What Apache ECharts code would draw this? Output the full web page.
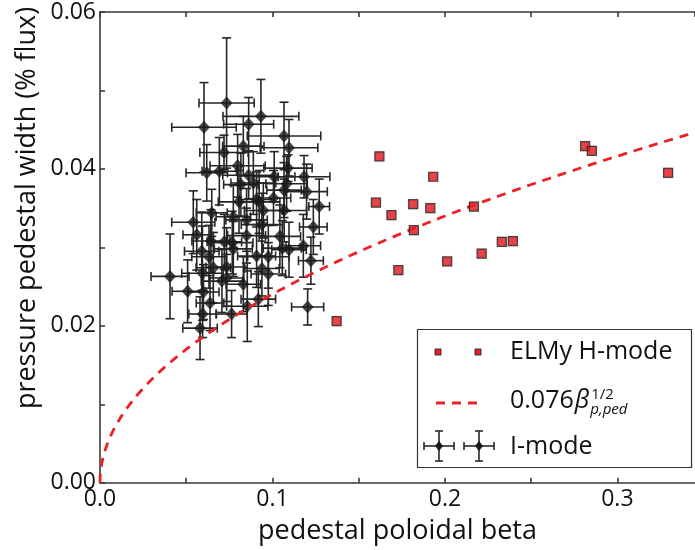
<!DOCTYPE html>
<html><head><meta charset="utf-8">
<script src="https://cdn.jsdelivr.net/npm/echarts@6/dist/echarts.min.js"></script>
<style>html,body{margin:0;padding:0;background:#fff}#c{width:695px;height:550px}</style>
</head><body><div id="c"></div>
<script>
// ---------------- data ----------------
// I-mode: pedestal poloidal beta, pressure pedestal width, and their errors
const imodeBeta = [0.0406,0.0508,0.0541,0.0561,0.0580,0.0590,0.0594,0.0600,0.0595,0.0603,0.0619,0.0632,0.0638,0.0643,0.0648,0.0657,0.0692,0.0707,0.0719,0.0721,0.0734,0.0734,0.0734,0.0767,0.0763,0.0773,0.0773,0.0798,0.0806,0.0817,0.0831,0.0831,0.0850,0.0850,0.0854,0.0862,0.0862,0.0889,0.0908,0.0908,0.0918,0.0923,0.0933,0.0939,0.0939,0.0947,0.0976,0.0976,0.1010,0.1006,0.1043,0.1057,0.1067,0.1067,0.1068,0.1082,0.1090,0.1096,0.1096,0.1179,0.1183,0.1198,0.1204,0.1223,0.1237,0.1271];
const imodeWidth = [0.0263,0.0244,0.0332,0.0316,0.0197,0.0295,0.0267,0.0243,0.0215,0.0453,0.0395,0.0288,0.0229,0.0308,0.0344,0.0274,0.0397,0.0257,0.0421,0.0307,0.0484,0.0275,0.0261,0.0306,0.0215,0.0339,0.0298,0.0404,0.0358,0.0380,0.0429,0.0253,0.0335,0.0315,0.0225,0.0457,0.0392,0.0382,0.0361,0.0289,0.0234,0.0358,0.0467,0.0329,0.0273,0.0347,0.0288,0.0266,0.0390,0.0363,0.0314,0.0299,0.0442,0.0373,0.0347,0.0381,0.0401,0.0427,0.0297,0.0302,0.0390,0.0371,0.0224,0.0283,0.0326,0.0352];
const imodeBetaErr = [0.011,0.009,0.0125,0.008,0.010,0.010,0.012,0.009,0.008,0.0187,0.012,0.010,0.008,0.011,0.009,0.010,0.010,0.012,0.014,0.010,0.016,0.012,0.010,0.012,0.009,0.010,0.011,0.016,0.012,0.010,0.012,0.010,0.012,0.011,0.012,0.0145,0.015,0.013,0.010,0.011,0.010,0.012,0.022,0.012,0.010,0.011,0.012,0.010,0.012,0.010,0.012,0.011,0.0213,0.010,0.013,0.012,0.014,0.0167,0.010,0.010,0.015,0.012,0.0093,0.0072,0.008,0.006];
const imodeWidthErr = [0.0054,0.0040,0.0040,0.0045,0.0040,0.0050,0.0060,0.0035,0.0030,0.0057,0.0036,0.0040,0.0035,0.0040,0.0030,0.0045,0.0043,0.0040,0.0022,0.0035,0.0083,0.0050,0.0030,0.0040,0.0030,0.0040,0.0035,0.0040,0.0040,0.0040,0.0038,0.0035,0.0040,0.0035,0.0045,0.0034,0.0030,0.0040,0.0035,0.0040,0.0035,0.0040,0.0047,0.0040,0.0035,0.0035,0.0040,0.0040,0.0032,0.0035,0.0040,0.0035,0.0043,0.0035,0.0040,0.0035,0.0017,0.0036,0.0035,0.0040,0.0027,0.0035,0.0023,0.0030,0.0035,0.0035];

// ELMy H-mode
const hmodeBeta  = [0.1372,0.160,0.162,0.169,0.173,0.1816,0.182,0.1915,0.1932,0.2013,0.2168,0.2213,0.2330,0.2394,0.2813,0.2852,0.3294];
const hmodeWidth = [0.0206,0.0357,0.0416,0.0341,0.0271,0.0355,0.0322,0.0350,0.0390,0.0282,0.0352,0.0292,0.0307,0.0308,0.0429,0.0423,0.0395];

// Fit curve  width = 0.076 * beta^(1/2)
const fitCoef = 0.076;
const fitBetaMax = 0.345;

const xTickLabels = ['0.0','0.1','0.2','0.3'];
const yTickLabels = ['0.00','0.02','0.04','0.06'];

// ---------------- build ----------------
const FONT = '"Open Sans", "DejaVu Sans", sans-serif';
const RED = '#ee1f25';
const DARK = '#222';

const imodeData = imodeBeta.map((b,i)=>[b, imodeWidth[i], imodeBetaErr[i], imodeWidthErr[i]]);
const hmodeData = hmodeBeta.map((b,i)=>[b, hmodeWidth[i]]);
const fitData = [];
const N = 160;
for (let i=0;i<=N;i++){ const b = fitBetaMax*(i/N)*(i/N); fitData.push([b, fitCoef*Math.sqrt(b)]); }

function renderErr(params, api){
  const x=api.value(0), y=api.value(1), xe=api.value(2), ye=api.value(3);
  const c=api.coord([x,y]);
  const l=api.coord([x-xe,y]), r=api.coord([x+xe,y]);
  const t=api.coord([x,y+ye]), b=api.coord([x,y-ye]);
  const cap=4.5;
  const st={stroke:'#262626', lineWidth:1.6, fill:null};
  return {type:'group', children:[
    {type:'line', shape:{x1:l[0],y1:c[1],x2:r[0],y2:c[1]}, style:st},
    {type:'line', shape:{x1:c[0],y1:t[1],x2:c[0],y2:b[1]}, style:st},
    {type:'line', shape:{x1:l[0],y1:c[1]-cap,x2:l[0],y2:c[1]+cap}, style:st},
    {type:'line', shape:{x1:r[0],y1:c[1]-cap,x2:r[0],y2:c[1]+cap}, style:st},
    {type:'line', shape:{x1:c[0]-cap,y1:t[1],x2:c[0]+cap,y2:t[1]}, style:st},
    {type:'line', shape:{x1:c[0]-cap,y1:b[1],x2:c[0]+cap,y2:b[1]}, style:st}
  ]};
}

function fmtX(v){ const k=Math.round(v*10); return Math.abs(v*10-k)<1e-6 ? xTickLabels[k] || '' : ''; }
function fmtY(v){ const k=Math.round(v*100); return (Math.abs(v*100-k)<1e-6 && k%2===0) ? yTickLabels[k/2] || '' : ''; }

const axisLineStyle = {color:'#3a3a3a', width:1.6};

// measure text for legend math
const cv = document.createElement('canvas').getContext('2d');
function tw(txt, font){ cv.font = font; return cv.measureText(txt).width; }
const LF = 25;
const w0 = tw('0.076', LF+'px "Open Sans"');
const wb = tw('β', 'italic '+LF+'px "Open Sans"');
const lx = 510;

const legendGraphics = [
  {type:'rect', z:100, shape:{x:417.5,y:329.5,width:274,height:138}, style:{fill:'#fff', stroke:'#333', lineWidth:1.2}},
  {type:'rect', z:101, shape:{x:435,y:349,width:6,height:6}, style:{fill:RED, stroke:'#333', lineWidth:1}},
  {type:'rect', z:101, shape:{x:475,y:349,width:6,height:6}, style:{fill:RED, stroke:'#333', lineWidth:1}},
  {type:'text', z:101, x:lx, y:352, style:{text:'ELMy H-mode', font:LF+'px '+FONT, fill:'#111', verticalAlign:'middle'}},
  {type:'line', z:101, shape:{x1:436,y1:403,x2:482,y2:403}, style:{stroke:RED, lineWidth:2.8, lineDash:[9,7]}},
  {type:'text', z:101, x:lx, y:401, style:{text:'0.076', font:LF+'px '+FONT, fill:'#111', verticalAlign:'middle'}},
  {type:'text', z:101, x:lx+w0+1, y:401, style:{text:'β', font:'italic '+LF+'px '+FONT, fill:'#111', verticalAlign:'middle'}},
  {type:'text', z:101, x:lx+w0+wb+3, y:395, style:{text:'1/2', font:'15px '+FONT, fill:'#111', verticalAlign:'middle'}},
  {type:'text', z:101, x:lx+w0+wb+2, y:410, style:{text:'p,ped', font:'italic 15px '+FONT, fill:'#111', verticalAlign:'middle'}},
  {type:'text', z:101, x:lx, y:447, style:{text:'I-mode', font:LF+'px '+FONT, fill:'#111', verticalAlign:'middle'}},
  {type:'text', z:50, x:27, y:208, rotation:Math.PI/2, style:{text:'pressure pedestal width (% flux)', font:'27px '+FONT, fill:'#111', align:'center', verticalAlign:'middle'}}
];
[439,479].forEach(cx=>{
  const cy=446, st={stroke:'#262626', lineWidth:1.6};
  legendGraphics.push(
    {type:'line', z:101, shape:{x1:cx-15,y1:cy,x2:cx+15,y2:cy}, style:st},
    {type:'line', z:101, shape:{x1:cx,y1:cy-15,x2:cx,y2:cy+15}, style:st},
    {type:'line', z:101, shape:{x1:cx-15,y1:cy-4,x2:cx-15,y2:cy+4}, style:st},
    {type:'line', z:101, shape:{x1:cx+15,y1:cy-4,x2:cx+15,y2:cy+4}, style:st},
    {type:'line', z:101, shape:{x1:cx-4,y1:cy-15,x2:cx+4,y2:cy-15}, style:st},
    {type:'line', z:101, shape:{x1:cx-4,y1:cy+15,x2:cx+4,y2:cy+15}, style:st},
    {type:'polygon', z:102, shape:{points:[[cx,cy-5],[cx+4,cy],[cx,cy+5],[cx-4,cy]]}, style:{fill:'#1a1a1a'}}
  );
});

const chart = echarts.init(document.getElementById('c'), null, {renderer:'canvas'});
chart.setOption({
  animation:false,
  backgroundColor:'#fff',
  textStyle:{fontFamily:FONT},
  grid:{left:100, top:12, right:0, bottom:67.3, containLabel:false},
  xAxis:[{
    type:'value', min:0, max:fitBetaMax, interval:0.05, position:'bottom',
    axisLine:{show:true, onZero:false, lineStyle:axisLineStyle},
    axisTick:{show:true, inside:true, length:5, lineStyle:axisLineStyle},
    axisLabel:{formatter:fmtX, fontSize:23, color:'#111', margin:5, fontFamily:FONT, showMaxLabel:false},
    splitLine:{show:false},
    name:'pedestal poloidal beta', nameLocation:'middle', nameGap:35,
    nameTextStyle:{fontSize:27, color:'#111', fontFamily:FONT}
  },{
    type:'value', min:0, max:fitBetaMax, interval:0.05, position:'top',
    axisLine:{show:true, onZero:false, lineStyle:axisLineStyle},
    axisTick:{show:true, inside:true, length:5, lineStyle:axisLineStyle},
    axisLabel:{show:false}, splitLine:{show:false}
  }],
  yAxis:{
    type:'value', min:0, max:0.06, interval:0.01,
    axisLine:{show:true, onZero:false, lineStyle:axisLineStyle},
    axisTick:{show:true, inside:true, length:5, lineStyle:axisLineStyle},
    axisLabel:{formatter:fmtY, fontSize:23, color:'#111', margin:4, fontFamily:FONT},
    splitLine:{show:false}
  },
  series:[
    {type:'custom', name:'I-mode bars', renderItem:renderErr, data:imodeData, z:2, encode:{x:0,y:1}, clip:false},
    {type:'scatter', name:'I-mode', data:imodeData.map(d=>[d[0],d[1]]), symbol:'diamond', symbolSize:[12,13], itemStyle:{color:'#1a1a1a'}, z:3},
    {type:'line', name:'fit', data:fitData, showSymbol:false, symbol:'none', lineStyle:{color:RED, width:2.8, type:[9,7]}, z:4, silent:true},
    {type:'scatter', name:'ELMy H-mode', data:hmodeData, symbol:'rect', symbolSize:9, itemStyle:{color:RED, borderColor:'#2a2a2a', borderWidth:1.2, shadowColor:'rgba(0,0,0,0.25)', shadowBlur:1.5}, z:5}
  ],
  graphic:legendGraphics
});
</script>
</body></html>
